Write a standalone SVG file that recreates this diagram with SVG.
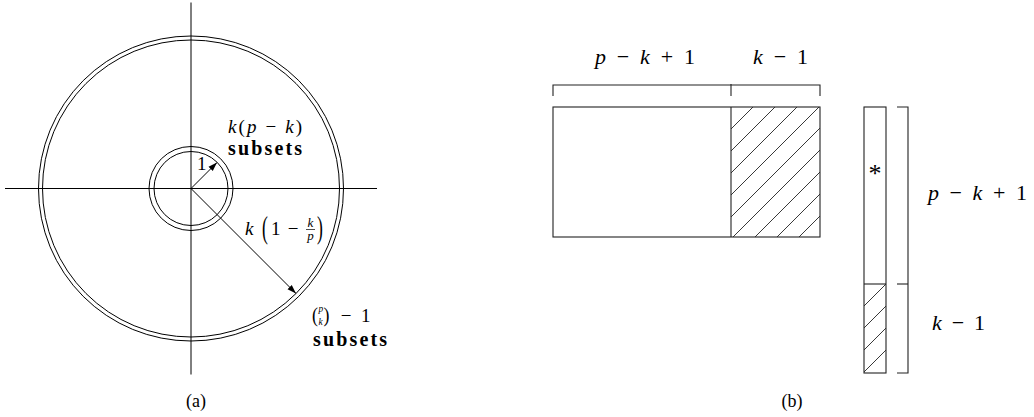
<svg xmlns="http://www.w3.org/2000/svg" width="1034" height="417" viewBox="0 0 1034 417">
<style>
.ln{stroke:#000;stroke-width:1;fill:none}
.bx{stroke:#222;stroke-width:1.1;fill:none}
.h{stroke:#222;stroke-width:0.9;fill:none}
.t{font-family:'Liberation Serif','DejaVu Serif',serif;fill:#000}
.i{font-style:italic}
.b{font-weight:bold}
</style>
<defs>
<marker id="ah" markerWidth="10" markerHeight="8" refX="9" refY="4" orient="auto" markerUnits="userSpaceOnUse"><path d="M0,1 L9,4 L0,7 Z" fill="#000"/></marker>
</defs>
<rect width="1034" height="417" fill="#fff"/>

<g id="axes">
<line class="ln" x1="191" y1="2.5" x2="191" y2="374.5"/>
<line class="ln" x1="5" y1="188.5" x2="377" y2="188.5"/>
</g>

<g id="inner-ring">
<circle class="ln" cx="191" cy="188.5" r="42"/>
<circle class="ln" cx="191" cy="188.5" r="37"/>
</g>

<g id="outer-ring">
<circle class="ln" cx="191" cy="188.5" r="152.5"/>
<circle class="ln" cx="191" cy="188.5" r="148.5"/>
</g>

<g id="connectors">
<line class="ln" x1="191" y1="188.5" x2="217" y2="162.5" marker-end="url(#ah)"/>
<line class="ln" x1="191" y1="188.5" x2="296" y2="293.5" marker-end="url(#ah)"/>
</g>

<g id="labels-a">
<text class="t" x="197" y="170" font-size="19">1</text>
<text class="t" x="228" y="133" font-size="19" textLength="74" lengthAdjust="spacing"><tspan class="i">k</tspan>(<tspan class="i">p</tspan> − <tspan class="i">k</tspan>)</text>
<text class="t b" x="228" y="155" font-size="20" textLength="74" lengthAdjust="spacing">subsets</text>

<text class="t i" x="245" y="235" font-size="19">k</text>
<text class="t" transform="translate(262,238) scale(0.55,1)" font-size="32">(</text>
<text class="t" x="271" y="235" font-size="19">1</text>
<text class="t" x="293" y="235" font-size="19" text-anchor="middle">−</text>
<text class="t i" x="310.5" y="227" font-size="13" text-anchor="middle">k</text>
<line x1="306" y1="229.5" x2="315" y2="229.5" stroke="#000" stroke-width="0.7"/>
<text class="t i" x="310.5" y="240" font-size="13" text-anchor="middle">p</text>
<text class="t" transform="translate(317,238) scale(0.55,1)" font-size="32">)</text>

<text class="t" transform="translate(312,322) scale(0.85,1)" font-size="21">(<tspan class="i" font-size="11" dx="0.6" dy="-10">p</tspan><tspan class="i" font-size="11" dx="-5.5" dy="13">k</tspan><tspan dx="1.2" dy="-3">)</tspan></text>
<text class="t" x="346" y="322" font-size="19" text-anchor="middle">−</text>
<text class="t" x="361" y="322" font-size="19">1</text>
<text class="t b" x="313" y="346" font-size="20" textLength="74" lengthAdjust="spacing">subsets</text>

<text class="t" x="196" y="407" font-size="18" text-anchor="middle">(a)</text>
</g>

<g id="bracket-top">
<polyline class="bx" points="553,96 553,85 820,85 820,96"/>
<line class="bx" x1="731" y1="84" x2="731" y2="96" stroke-width="1.6"/>
</g>

<g id="matrix">
<rect class="bx" x="553" y="107" width="267" height="130"/>
<line class="bx" x1="731" y1="107" x2="731" y2="237"/>
<g class="h">
<line x1="753" y1="107" x2="731" y2="129"/>
<line x1="775" y1="107" x2="731" y2="151"/>
<line x1="797" y1="107" x2="731" y2="173"/>
<line x1="819" y1="107" x2="731" y2="195"/>
<line x1="820" y1="128" x2="731" y2="217"/>
<line x1="820" y1="150" x2="733" y2="237"/>
<line x1="820" y1="172" x2="755" y2="237"/>
<line x1="820" y1="194" x2="777" y2="237"/>
<line x1="820" y1="216" x2="799" y2="237"/>
</g>
</g>

<g id="column">
<rect class="bx" x="864" y="107" width="22" height="266"/>
<line class="bx" x1="864" y1="284" x2="886" y2="284"/>
<g class="h">
<line x1="886" y1="284" x2="864" y2="306"/>
<line x1="886" y1="306" x2="864" y2="328"/>
<line x1="886" y1="328" x2="864" y2="350"/>
<line x1="886" y1="350" x2="864" y2="372"/>
</g>
<text class="t" x="875" y="182" font-size="26" text-anchor="middle">*</text>
</g>

<g id="bracket-right">
<polyline class="bx" points="897,107 908,107 908,373 897,373"/>
<line class="bx" x1="897" y1="284" x2="908" y2="284"/>
</g>

<g id="labels-b">
<text class="t" x="595" y="64" font-size="22" textLength="100" lengthAdjust="spacing"><tspan class="i">p</tspan> − <tspan class="i">k</tspan> + 1</text>
<text class="t" x="753" y="64" font-size="22" textLength="55" lengthAdjust="spacing"><tspan class="i">k</tspan> − 1</text>
<text class="t" x="928" y="200" font-size="22" textLength="99" lengthAdjust="spacing"><tspan class="i">p</tspan> − <tspan class="i">k</tspan> + 1</text>
<text class="t" x="932" y="330" font-size="22" textLength="53" lengthAdjust="spacing"><tspan class="i">k</tspan> − 1</text>
<text class="t" x="792" y="407" font-size="18" text-anchor="middle">(b)</text>
</g>
</svg>
